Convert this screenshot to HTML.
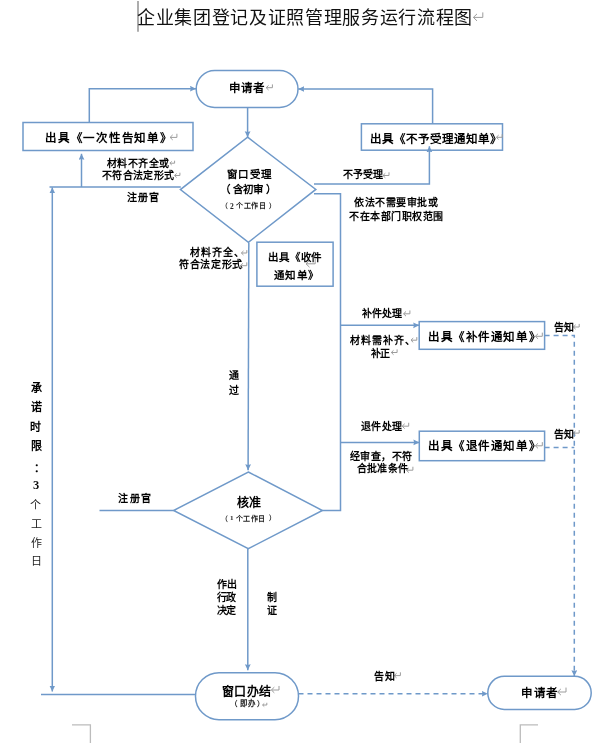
<!DOCTYPE html><html lang="zh-CN"><head><meta charset="utf-8"><style>html,body{margin:0;padding:0;background:#fff}
body{width:605px;height:748px;position:relative;overflow:hidden;font-family:"Liberation Serif", serif}
.t{position:absolute;white-space:nowrap;line-height:1;will-change:transform}
.r{position:absolute;white-space:nowrap;line-height:1;will-change:transform}
body{width:605px;height:748px}</style></head><body><svg width="605" height="748" viewBox="0 0 605 748" style="position:absolute;left:0;top:0">
<defs><marker id="ah" markerUnits="userSpaceOnUse" markerWidth="8" markerHeight="8" refX="6" refY="3" orient="auto"><path d="M0 0.1 L6 3 L0 5.9 L0.7 3 Z" fill="#6f99c9"/></marker></defs>
<g fill="none" stroke="#6f99c9" stroke-width="1.5">
<rect x="196.2" y="70.5" width="101.8" height="37" rx="18.5" ry="18.5"/>
<line x1="247.6" y1="107.5" x2="247.6" y2="137.2" marker-end="url(#ah)"/>
<path d="M247.6 137.2 L315.8 189.4 L248.4 242.3 L180.4 189.6 Z" />
<rect x="23" y="122.5" width="170" height="28"/>
<path d="M89.3 122.5 V88.7 H196" marker-end="url(#ah)"/>
<line x1="180.8" y1="187" x2="49.5" y2="187" />
<path d="M81.5 187 V153.8" marker-end="url(#ah)"/>
<path d="M52.3 200 V187.4" marker-end="url(#ah)"/>
<path d="M52.3 200 V691.5" marker-end="url(#ah)"/>
<rect x="361.4" y="123.8" width="141.1" height="26.4"/>
<path d="M432.6 123.8 V89 H298.3" marker-end="url(#ah)"/>
<path d="M314 183.9 H429.4 V146.3" marker-end="url(#ah)"/>
<path d="M314 193.8 H340.5 V510.4 H322.4" />
<rect x="256.9" y="242.2" width="76.2" height="44"/>
<path d="M248.8 242.7 L248.1 470.3" marker-end="url(#ah)"/>
<path d="M248.3 472 L322.4 510.5 L248.3 548.7 L173.6 510.5 Z" />
<line x1="99.5" y1="510.6" x2="173.6" y2="510.6" />
<path d="M247.8 548.7 V670.3" marker-end="url(#ah)"/>
<path d="M340.5 325.3 H419.2" marker-end="url(#ah)"/>
<rect x="419.2" y="321.6" width="125.4" height="27.7"/>
<path d="M340.5 442.4 H419.4" marker-end="url(#ah)"/>
<rect x="419.3" y="431.2" width="125.3" height="29.5"/>
<rect x="195.5" y="672.7" width="103" height="47" rx="23.5" ry="23.5"/>
<line x1="41" y1="694.5" x2="195.5" y2="694.5" />
<rect x="487.8" y="676.3" width="103.4" height="33.1" rx="16.5" ry="16.5"/>
<path d="M544.6 335.4 H574.3 V676.3" marker-end="url(#ah)" stroke-dasharray="5 4"/>
<path d="M544.6 447.5 H574.3" stroke-dasharray="5 4"/>
<path d="M298.5 693.8 H487.8" marker-end="url(#ah)" stroke-dasharray="5 4"/>
</g>
<g fill="none" stroke="#bcbcbc" stroke-width="1.3">
<path d="M72 724.8 H90.4 V743"/>
<path d="M538 724.8 H520.3 V743"/>
</g>
<g fill="none" stroke="#9c9c9c" stroke-width="1"><path d="M477.00 13.90 L473.40 17.40 L477.00 20.90 M473.40 17.40 H482.80 V12.40"/><path d="M268.57 85.39 L266.20 87.70 L268.57 90.01 M266.20 87.70 H272.40 V84.40"/><path d="M172.70 134.87 L170.10 137.40 L172.70 139.93 M170.10 137.40 H176.90 V133.78"/><path d="M498.62 135.14 L496.40 137.30 L498.62 139.46 M496.40 137.30 H502.20 V134.21"/><path d="M171.70 161.45 L169.90 163.20 L171.70 164.95 M169.90 163.20 H174.60 V160.70"/><path d="M176.63 173.53 L174.60 175.50 L176.63 177.47 M174.60 175.50 H179.90 V172.68"/><path d="M385.30 173.27 L383.00 175.50 L385.30 177.73 M383.00 175.50 H389.00 V172.31"/><path d="M243.47 250.99 L241.40 253.00 L243.47 255.01 M241.40 253.00 H246.80 V250.13"/><path d="M242.91 263.35 L240.50 265.70 L242.91 268.05 M240.50 265.70 H246.80 V262.35"/><path d="M309.52 260.37 L306.00 263.80 L309.52 267.23 M306.00 263.80 H315.20 V258.91"/><path d="M406.01 311.45 L403.60 313.80 L406.01 316.15 M403.60 313.80 H409.90 V310.45"/><path d="M413.22 338.04 L411.00 340.20 L413.22 342.36 M411.00 340.20 H416.80 V337.11"/><path d="M393.52 350.34 L391.30 352.50 L393.52 354.66 M391.30 352.50 H397.10 V349.41"/><path d="M538.04 333.73 L535.40 336.30 L538.04 338.87 M535.40 336.30 H542.30 V332.63"/><path d="M575.62 324.84 L573.40 327.00 L575.62 329.16 M573.40 327.00 H579.20 V323.91"/><path d="M404.69 423.78 L402.20 426.20 L404.69 428.62 M402.20 426.20 H408.70 V422.74"/><path d="M408.89 467.78 L406.40 470.20 L408.89 472.62 M406.40 470.20 H412.90 V466.74"/><path d="M538.04 443.23 L535.40 445.80 L538.04 448.37 M535.40 445.80 H542.30 V442.13"/><path d="M575.62 430.94 L573.40 433.10 L575.62 435.26 M573.40 433.10 H579.20 V430.01"/><path d="M274.31 687.17 L271.40 690.00 L274.31 692.83 M271.40 690.00 H279.00 V685.96"/><path d="M264.21 703.44 L262.60 705.00 L264.21 706.56 M262.60 705.00 H266.80 V702.77"/><path d="M396.57 673.29 L394.20 675.60 L396.57 677.91 M394.20 675.60 H400.40 V672.30"/><path d="M560.88 688.91 L557.70 692.00 L560.88 695.09 M557.70 692.00 H566.00 V687.59"/></g>
<line x1="138" y1="1" x2="138" y2="31.8" stroke="#8a8a8a" stroke-width="1.4"/>
</svg>
<div class="t" style="left:137.30px;top:8.75px;font-size:18.00px;letter-spacing:0.67px;font-weight:normal;color:#111">企业集团登记及证照管理服务运行流程图</div>
<div class="t" style="left:228.80px;top:82.70px;font-size:11.50px;letter-spacing:1.20px;font-weight:bold;color:#000">申请者</div>
<div class="t" style="left:45.00px;top:132.85px;font-size:11.50px;letter-spacing:1.78px;font-weight:bold;color:#000">出具《一次性告知单》</div>
<div class="t" style="left:370.00px;top:133.50px;font-size:11.50px;letter-spacing:1.00px;font-weight:bold;color:#000">出具《不予受理通知单》</div>
<div class="t" style="left:107.30px;top:158.50px;font-size:10.00px;letter-spacing:0.48px;font-weight:bold;color:#000">材料不齐全或</div>
<div class="t" style="left:102.40px;top:170.75px;font-size:10.00px;letter-spacing:0.37px;font-weight:bold;color:#000">不符合法定形式</div>
<div class="t" style="left:127.00px;top:193.25px;font-size:10.00px;letter-spacing:1.00px;font-weight:bold;color:#000">注册官</div>
<div class="t" style="left:226.70px;top:170.20px;font-size:10.50px;letter-spacing:1.27px;font-weight:bold;color:#000">窗口受理</div>
<div class="t" style="left:220.15px;top:185.30px;font-size:10.50px;letter-spacing:0.00px;font-weight:bold;color:#000">（</div>
<div class="t" style="left:232.90px;top:185.30px;font-size:10.50px;letter-spacing:-0.20px;font-weight:bold;color:#000">含初审</div>
<div class="t" style="left:265.85px;top:185.30px;font-size:10.50px;letter-spacing:0.00px;font-weight:bold;color:#000">）</div>
<div class="t" style="left:221.40px;top:203.30px;font-size:6.80px;letter-spacing:0.00px;font-weight:bold;color:#222">（</div>
<div class="t" style="left:229.75px;top:202.80px;font-size:7.50px;letter-spacing:0.00px;font-weight:bold;color:#222">2</div>
<div class="t" style="left:236.40px;top:203.30px;font-size:7.00px;letter-spacing:0.60px;font-weight:bold;color:#222">个工作日</div>
<div class="t" style="left:268.65px;top:202.80px;font-size:6.80px;letter-spacing:0.00px;font-weight:bold;color:#222">）</div>
<div class="t" style="left:343.00px;top:170.00px;font-size:10.00px;letter-spacing:0.00px;font-weight:bold;color:#000">不予受理</div>
<div class="t" style="left:354.00px;top:198.25px;font-size:10.00px;letter-spacing:0.57px;font-weight:bold;color:#000">依法不需要审批或</div>
<div class="t" style="left:349.00px;top:212.00px;font-size:10.00px;letter-spacing:0.50px;font-weight:bold;color:#000">不在本部门职权范围</div>
<div class="t" style="left:189.50px;top:248.25px;font-size:10.00px;letter-spacing:0.90px;font-weight:bold;color:#000">材料齐全、</div>
<div class="t" style="left:178.70px;top:259.85px;font-size:10.00px;letter-spacing:0.64px;font-weight:bold;color:#000">符合法定形式</div>
<div class="t" style="left:267.90px;top:252.90px;font-size:10.50px;letter-spacing:0.85px;font-weight:bold;color:#000">出具《收件</div>
<div class="t" style="left:273.50px;top:270.75px;font-size:10.50px;letter-spacing:1.27px;font-weight:bold;color:#000">通知单》</div>
<div class="t" style="left:362.40px;top:308.75px;font-size:10.00px;letter-spacing:0.07px;font-weight:bold;color:#000">补件处理</div>
<div class="t" style="left:350.00px;top:335.50px;font-size:10.00px;letter-spacing:1.08px;font-weight:bold;color:#000">材料需补齐、</div>
<div class="t" style="left:370.50px;top:348.75px;font-size:10.00px;letter-spacing:-1.00px;font-weight:bold;color:#000">补正</div>
<div class="t" style="left:427.90px;top:331.60px;font-size:11.50px;letter-spacing:1.58px;font-weight:bold;color:#000">出具《补件通知单》</div>
<div class="t" style="left:553.70px;top:322.50px;font-size:10.00px;letter-spacing:0.40px;font-weight:bold;color:#000">告知</div>
<div class="t" style="left:361.00px;top:422.40px;font-size:10.00px;letter-spacing:0.33px;font-weight:bold;color:#000">退件处理</div>
<div class="t" style="left:350.00px;top:452.35px;font-size:10.00px;letter-spacing:0.40px;font-weight:bold;color:#000">经审查，不符</div>
<div class="t" style="left:356.60px;top:464.35px;font-size:10.00px;letter-spacing:0.20px;font-weight:bold;color:#000">合批准条件</div>
<div class="t" style="left:427.90px;top:441.20px;font-size:11.50px;letter-spacing:1.58px;font-weight:bold;color:#000">出具《退件通知单》</div>
<div class="t" style="left:553.70px;top:430.35px;font-size:10.00px;letter-spacing:0.40px;font-weight:bold;color:#000">告知</div>
<div class="t" style="left:228.85px;top:371.25px;font-size:10.00px;letter-spacing:0.00px;font-weight:bold;color:#000">通</div>
<div class="t" style="left:228.85px;top:386.35px;font-size:10.00px;letter-spacing:0.00px;font-weight:bold;color:#000">过</div>
<div class="t" style="left:118.00px;top:493.50px;font-size:10.00px;letter-spacing:1.50px;font-weight:bold;color:#000">注册官</div>
<div class="t" style="left:237.00px;top:496.65px;font-size:12.00px;letter-spacing:-0.40px;font-weight:bold;color:#000">核准</div>
<div class="t" style="left:221.15px;top:515.90px;font-size:6.80px;letter-spacing:0.00px;font-weight:bold;color:#222">（</div>
<div class="t" style="left:230.05px;top:515.40px;font-size:7.00px;letter-spacing:0.00px;font-weight:bold;color:#222">1</div>
<div class="t" style="left:236.40px;top:515.90px;font-size:7.00px;letter-spacing:0.40px;font-weight:bold;color:#222">个工作日</div>
<div class="t" style="left:268.65px;top:515.40px;font-size:6.80px;letter-spacing:0.00px;font-weight:bold;color:#222">）</div>
<div class="t" style="left:217.00px;top:580.35px;font-size:10.00px;letter-spacing:0.40px;font-weight:bold;color:#000">作出</div>
<div class="t" style="left:217.00px;top:593.05px;font-size:10.00px;letter-spacing:-0.60px;font-weight:bold;color:#000">行政</div>
<div class="t" style="left:217.00px;top:605.70px;font-size:10.00px;letter-spacing:-0.60px;font-weight:bold;color:#000">决定</div>
<div class="t" style="left:267.15px;top:592.85px;font-size:10.00px;letter-spacing:0.00px;font-weight:bold;color:#000">制</div>
<div class="t" style="left:267.15px;top:605.50px;font-size:10.00px;letter-spacing:0.00px;font-weight:bold;color:#000">证</div>
<div class="t" style="left:221.80px;top:686.30px;font-size:12.00px;letter-spacing:0.40px;font-weight:bold;color:#000">窗口办结</div>
<div class="t" style="left:229.75px;top:700.85px;font-size:7.50px;letter-spacing:0.00px;font-weight:bold;color:#222">（</div>
<div class="t" style="left:240.00px;top:700.35px;font-size:7.50px;letter-spacing:1.40px;font-weight:bold;color:#222">即办</div>
<div class="t" style="left:256.70px;top:700.85px;font-size:7.50px;letter-spacing:0.00px;font-weight:bold;color:#222">）</div>
<div class="t" style="left:374.40px;top:671.60px;font-size:10.00px;letter-spacing:0.60px;font-weight:bold;color:#000">告知</div>
<div class="t" style="left:521.00px;top:688.25px;font-size:11.50px;letter-spacing:1.70px;font-weight:bold;color:#000">申请者</div>
<div class="t" style="left:30.70px;top:383.20px;font-size:11.00px;letter-spacing:0.00px;font-weight:bold;color:#000">承</div>
<div class="t" style="left:30.90px;top:402.25px;font-size:11.00px;letter-spacing:0.00px;font-weight:bold;color:#000">诺</div>
<div class="t" style="left:30.20px;top:421.75px;font-size:11.00px;letter-spacing:0.00px;font-weight:bold;color:#000">时</div>
<div class="t" style="left:30.70px;top:441.15px;font-size:11.00px;letter-spacing:0.00px;font-weight:bold;color:#000">限</div>
<div class="t" style="left:33.50px;top:462.70px;font-size:11.00px;letter-spacing:0.00px;font-weight:bold;color:#000">：</div>
<div class="t" style="left:33.10px;top:479.00px;font-size:12.50px;letter-spacing:0.00px;font-weight:bold;color:#111">3</div>
<div class="t" style="left:30.45px;top:500.00px;font-size:11.00px;letter-spacing:0.00px;font-weight:normal;color:#222">个</div>
<div class="t" style="left:30.65px;top:518.75px;font-size:11.00px;letter-spacing:0.00px;font-weight:normal;color:#222">工</div>
<div class="t" style="left:30.65px;top:537.80px;font-size:11.00px;letter-spacing:0.00px;font-weight:normal;color:#222">作</div>
<div class="t" style="left:30.85px;top:556.10px;font-size:11.00px;letter-spacing:0.00px;font-weight:normal;color:#222">日</div></body></html>
